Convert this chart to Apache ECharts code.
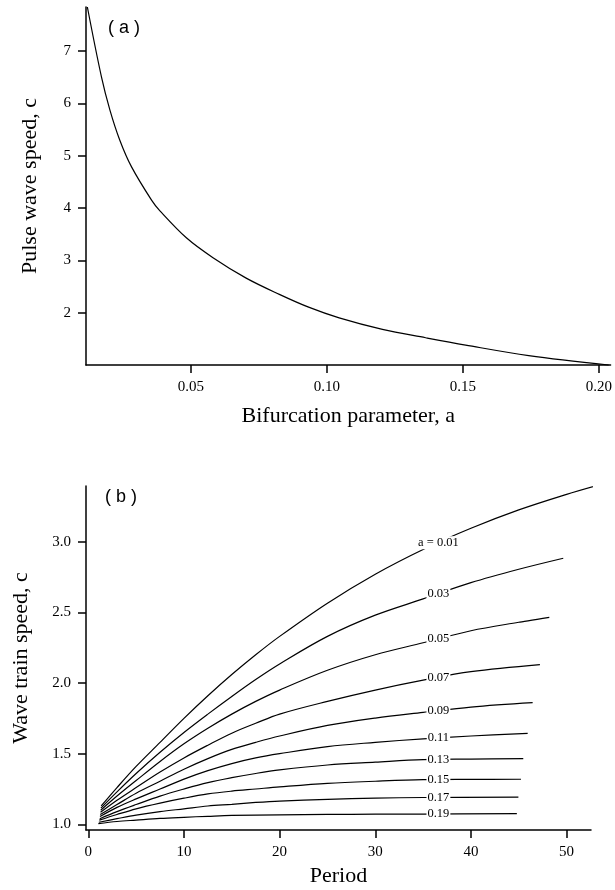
<!DOCTYPE html>
<html>
<head>
<meta charset="utf-8">
<script src="https://cdn.jsdelivr.net/npm/echarts@6/dist/echarts.min.js"></script>
<style>
html,body{margin:0;padding:0;background:#fff;}
#chart{width:615px;height:890px;}
</style>
</head>
<body>
<div id="chart"></div>
<script>
// ---------- Panel (a): pulse wave speed vs bifurcation parameter ----------
const bifurcationA = [0.0119, 0.0171, 0.0202, 0.0238, 0.0281, 0.0355, 0.0385, 0.0483, 0.0581, 0.0703, 0.0825, 0.0935, 0.1045, 0.1204, 0.1363, 0.1510, 0.1742, 0.2036];
const pulseSpeed   = [7.84,   6.50,   5.87,   5.30,   4.79,   4.15,   3.95,   3.43,   3.05,   2.66,   2.35,   2.10,   1.90,   1.68,   1.52,   1.38,   1.18,   1.00];
const aTicksX = [0.05, 0.10, 0.15, 0.20];
const aTicksY = [2, 3, 4, 5, 6, 7];

// ---------- Panel (b): wave train speed vs period ----------
const curveNames = ['a = 0.01', '0.03', '0.05', '0.07', '0.09', '0.11', '0.13', '0.15', '0.17', '0.19'];
const curve001 = [[1.35,1.13],[3,1.26],[5,1.41],[7.5,1.58],[10,1.75],[12.5,1.91],[15,2.06],[17.5,2.20],[20,2.33],[25,2.565],[30,2.77],[35,2.945],[40,3.095],[45,3.225],[50,3.335],[53.3,3.40]];
const curve003 = [[1.32,1.115],[3,1.23],[5,1.36],[7.5,1.51],[10,1.65],[12.5,1.78],[15,1.905],[17.5,2.025],[20,2.135],[25,2.33],[30,2.48],[35,2.595],[40,2.71],[45,2.805],[49.65,2.883]];
const curve005 = [[1.3,1.10],[3,1.20],[5,1.31],[7.5,1.445],[10,1.57],[12.5,1.68],[15,1.78],[17.5,1.87],[20,1.95],[25,2.09],[30,2.20],[35,2.285],[40,2.37],[45,2.43],[48.19,2.465]];
const curve007 = [[1.28,1.085],[3,1.17],[5,1.26],[7.5,1.37],[10,1.47],[12.5,1.56],[15,1.645],[17.5,1.715],[20,1.78],[25,1.87],[30,1.95],[35,2.02],[40,2.08],[47.21,2.13]];
const curve009 = [[1.25,1.07],[3,1.14],[5,1.22],[7.5,1.305],[10,1.39],[12.5,1.465],[15,1.53],[17.5,1.58],[20,1.625],[25,1.70],[30,1.752],[35,1.792],[40,1.83],[46.45,1.861]];
const curve011 = [[1.22,1.055],[3,1.12],[5,1.18],[7.5,1.25],[10,1.32],[12.5,1.38],[15,1.43],[17.5,1.47],[20,1.50],[25,1.55],[30,1.58],[35,1.605],[40,1.625],[45.93,1.644]];
const curve013 = [[1.2,1.04],[3,1.09],[5,1.14],[7.5,1.20],[10,1.25],[12.5,1.295],[15,1.33],[17.5,1.36],[20,1.385],[25,1.42],[30,1.44],[35,1.458],[40,1.462],[45.47,1.465]];
const curve015 = [[1.15,1.03],[3,1.07],[5,1.11],[7.5,1.15],[10,1.185],[12.5,1.215],[15,1.235],[17.5,1.25],[20,1.265],[25,1.29],[30,1.305],[35,1.316],[40,1.318],[45.23,1.319]];
const curve017 = [[1.1,1.015],[3,1.04],[5,1.065],[7.5,1.09],[10,1.11],[12.5,1.13],[15,1.142],[17.5,1.155],[20,1.165],[25,1.177],[30,1.185],[35,1.19],[44.96,1.192]];
const curve019 = [[1.05,1.005],[3,1.02],[5,1.03],[7.5,1.042],[10,1.05],[12.5,1.057],[15,1.063],[20,1.067],[25,1.07],[30,1.072],[35,1.073],[44.8,1.076]];
const curves = [curve001, curve003, curve005, curve007, curve009, curve011, curve013, curve015, curve017, curve019];
const periodTicks = [0, 10, 20, 30, 40, 50];
const trainSpeedTicks = [1.0, 1.5, 2.0, 2.5, 3.0];
const labelPeriod = 36.6;

// ---------- helpers ----------
function interp(curve, p) {
  for (let i = 0; i < curve.length - 1; i++) {
    const [x0, y0] = curve[i], [x1, y1] = curve[i + 1];
    if (p >= x0 && p <= x1) return y0 + (y1 - y0) * (p - x0) / (x1 - x0);
  }
  return curve[curve.length - 1][1];
}

const serif = 'Liberation Serif';
const black = '#000';

function axisCommon(ticks, fmt, margin) {
  return {
    axisLine: { show: true, onZero: false, lineStyle: { color: black, width: 1.5 } },
    axisTick: { show: true, length: 8, customValues: ticks, lineStyle: { color: black, width: 1.5 } },
    axisLabel: { customValues: ticks, formatter: fmt, margin: margin, fontFamily: serif, fontSize: 15, color: black },
    splitLine: { show: false }
  };
}

const chart = echarts.init(document.getElementById('chart'), null, { renderer: 'canvas' });

const lineSeries = curves.map((c, i) => ({
  type: 'line',
  name: curveNames[i],
  xAxisIndex: 1, yAxisIndex: 1,
  data: c,
  showSymbol: false,
  smooth: 0.35,
  clip: false,
  lineStyle: { color: black, width: 1.2 },
  z: 2
}));

const labelData = curves.map((c, i) => [labelPeriod, interp(c, labelPeriod), curveNames[i]]);

const option = {
  backgroundColor: '#fff',
  animation: false,
  grid: [
    { left: 86, top: 7, width: 526, height: 358 },
    { left: 86, top: 486, width: 505, height: 344 }
  ],
  xAxis: [
    Object.assign({
      gridIndex: 0, type: 'value', min: 0.0114, max: 0.2043,
      name: 'Bifurcation parameter, a', nameLocation: 'middle', nameGap: 40,
      nameTextStyle: { fontFamily: serif, fontSize: 22, color: black }
    }, axisCommon(aTicksX, v => v.toFixed(2), 15)),
    Object.assign({
      gridIndex: 1, type: 'value', min: -0.24, max: 52.55,
      name: 'Period', nameLocation: 'middle', nameGap: 35,
      nameTextStyle: { fontFamily: serif, fontSize: 22, color: black }
    }, axisCommon(periodTicks, v => String(v), 15))
  ],
  yAxis: [
    Object.assign({
      gridIndex: 0, type: 'value', min: 1.0, max: 7.84,
      name: 'Pulse wave speed, c', nameLocation: 'middle', nameGap: 45, nameRotate: 90,
      nameTextStyle: { fontFamily: serif, fontSize: 22, color: black }
    }, axisCommon(aTicksY, v => String(v), 15)),
    Object.assign({
      gridIndex: 1, type: 'value', min: 0.96, max: 3.394,
      name: 'Wave train speed, c', nameLocation: 'middle', nameGap: 54, nameRotate: 90,
      nameTextStyle: { fontFamily: serif, fontSize: 22, color: black }
    }, axisCommon(trainSpeedTicks, v => v.toFixed(1), 15))
  ],
  graphic: [
    { type: 'text', left: 108, top: 19, style: { text: '( a )', fontFamily: 'Liberation Sans', fontSize: 18, fill: black } },
    { type: 'text', left: 105, top: 488, style: { text: '( b )', fontFamily: 'Liberation Sans', fontSize: 18, fill: black } }
  ],
  series: [
    {
      type: 'line',
      xAxisIndex: 0, yAxisIndex: 0,
      data: bifurcationA.map((a, i) => [a, pulseSpeed[i]]),
      showSymbol: false,
      smooth: 0.35,
      clip: false,
      lineStyle: { color: black, width: 1.2 }
    },
    ...lineSeries,
    {
      type: 'scatter',
      xAxisIndex: 1, yAxisIndex: 1,
      data: labelData,
      symbolSize: 0,
      itemStyle: { color: black, opacity: 1 },
      z: 5,
      label: {
        show: true,
        position: 'inside',
        formatter: p => p.data[2],
        fontFamily: serif,
        fontSize: 12.5,
        color: '#000',
        opacity: 1,
        backgroundColor: '#fff',
        padding: [0, 1]
      }
    }
  ]
};

chart.setOption(option);
</script>
</body>
</html>
